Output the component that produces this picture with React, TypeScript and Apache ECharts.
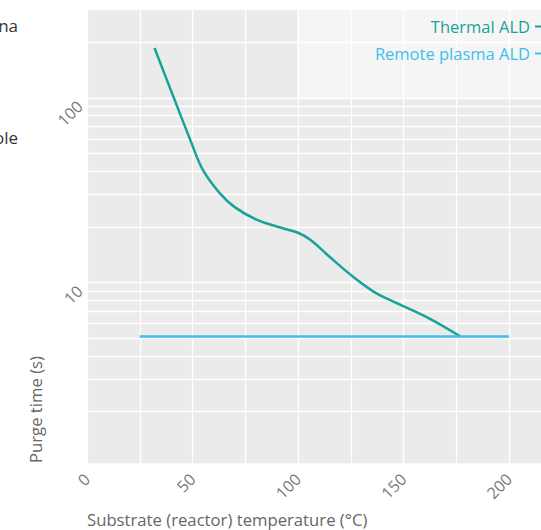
import React, { useEffect, useRef } from "react";
import * as echarts from "echarts";

// ---- data ----
const thermalTemps = [32, 41, 49, 55, 63, 70, 80, 92, 100, 106, 114, 125, 136, 144, 161, 177];
const thermalPurge = [186, 101, 59, 40.6, 30.4, 25.6, 22, 19.8, 18.6, 17, 14.1, 11, 8.9, 8.0, 6.5, 5.1];
const remoteTemps = [25, 200];
const remotePurge = [5.1, 5.1];
const yGridValues = [2, 3, 4, 5, 6, 7, 8, 9, 10, 20, 30, 40, 50, 60, 70, 80, 90, 100, 200];
const yLabelValues = [10, 100];
const xLabelStep = 50;

const seriesNames = ["Thermal ALD", "Remote plasma ALD"];
const xTitle = "Substrate (reactor) temperature (°C)";
const yTitle = "Purge time (s)";
const clippedTexts = ["na", "ole"];

const FONT = "'Open Sans', 'Noto Sans', sans-serif";
const TEAL = "#17a398";
const BLUE = "#3dbfec";

export default function App() {
  const ref = useRef<HTMLDivElement | null>(null);

  useEffect(() => {
    if (!ref.current) return;
    const chart = echarts.init(ref.current, undefined, { renderer: "svg" });
    const option: any = {
      animation: false,
      backgroundColor: "#fff",
      textStyle: { fontFamily: FONT },
      grid: {
        left: 87,
        top: 10,
        width: 474.75,
        height: 453.3,
        show: true,
        backgroundColor: "#ebebeb",
        borderWidth: 0,
        containLabel: false,
      },
      legend: {
        orient: "vertical",
        right: 24,
        top: 10,
        align: "right",
        itemWidth: 30,
        itemHeight: 14,
        itemGap: 10,
        padding: [8, 10, 36, 78],
        backgroundColor: "rgba(255,255,255,0.5)",
        textStyle: { fontFamily: FONT, fontSize: 16.5, fontWeight: 500 },
        data: [
          { name: seriesNames[0], textStyle: { color: TEAL } },
          { name: seriesNames[1], textStyle: { color: BLUE } },
        ],
      },
      xAxis: {
        type: "value",
        min: 0,
        max: 225,
        interval: 25,
        axisLine: { show: false },
        axisTick: { show: false },
        splitLine: { show: true, lineStyle: { color: "#ffffff", width: 1.3 } },
        axisLabel: {
          rotate: 45,
          margin: 13,
          fontSize: 16,
          color: "#7a7a7a",
          fontFamily: FONT,
          formatter: (v: number) => (Math.round(v) % xLabelStep === 0 ? String(Math.round(v)) : ""),
        },
      },
      yAxis: {
        type: "log",
        logBase: 10,
        min: 1.05,
        max: 299,
        axisLine: { show: false },
        axisTick: { show: false },
        splitLine: { show: false },
        axisLabel: {
          rotate: 45,
          margin: 13,
          fontSize: 16,
          color: "#7a7a7a",
          fontFamily: FONT,
          verticalAlign: "top",
          formatter: (v: number) => {
            const hit = yLabelValues.find((t) => Math.abs(t - v) / t < 1e-6);
            return hit !== undefined ? String(hit) : "";
          },
        },
      },
      series: [
        {
          name: seriesNames[0],
          type: "line",
          z: 3,
          smooth: 0.4,
          symbol: "none",
          lineStyle: { color: TEAL, width: 2.5 },
          itemStyle: { color: TEAL },
          data: thermalTemps.map((t, i) => [t, thermalPurge[i]]),
        },
        {
          name: seriesNames[1],
          type: "line",
          z: 3,
          symbol: "none",
          lineStyle: { color: BLUE, width: 2.5 },
          itemStyle: { color: BLUE },
          data: remoteTemps.map((t, i) => [t, remotePurge[i]]),
          markLine: {
            silent: true,
            z: 1,
            symbol: ["none", "none"],
            label: { show: false },
            lineStyle: { color: "#ffffff", width: 1.3, type: "solid" },
            emphasis: { disabled: true },
            data: yGridValues.map((v) => ({ yAxis: v })),
          },
        },
      ],
      graphic: [
        {
          type: "text",
          x: 18,
          y: 25,
          style: { text: clippedTexts[0], align: "right", verticalAlign: "middle", fontSize: 17, fontFamily: FONT, fill: "#333" },
        },
        {
          type: "text",
          x: 18,
          y: 137,
          style: { text: clippedTexts[1], align: "right", verticalAlign: "middle", fontSize: 17, fontFamily: FONT, fill: "#333" },
        },
        {
          type: "text",
          x: 35,
          y: 463,
          rotation: Math.PI / 2,
          style: { text: yTitle, align: "left", verticalAlign: "middle", fontSize: 16.7, fontFamily: FONT, fill: "#666" },
        },
        {
          type: "text",
          x: 87,
          y: 519,
          style: { text: xTitle, align: "left", verticalAlign: "middle", fontSize: 16.7, fontFamily: FONT, fill: "#666" },
        },
      ],
    };
    chart.setOption(option);
    return () => chart.dispose();
  }, []);

  return (
    <div
      style={{
        position: "fixed",
        left: 0,
        top: 0,
        width: 541,
        height: 530,
        overflow: "hidden",
        background: "#fff",
      }}
    >
      <div ref={ref} style={{ width: 600, height: 530 }} />
    </div>
  );
}
